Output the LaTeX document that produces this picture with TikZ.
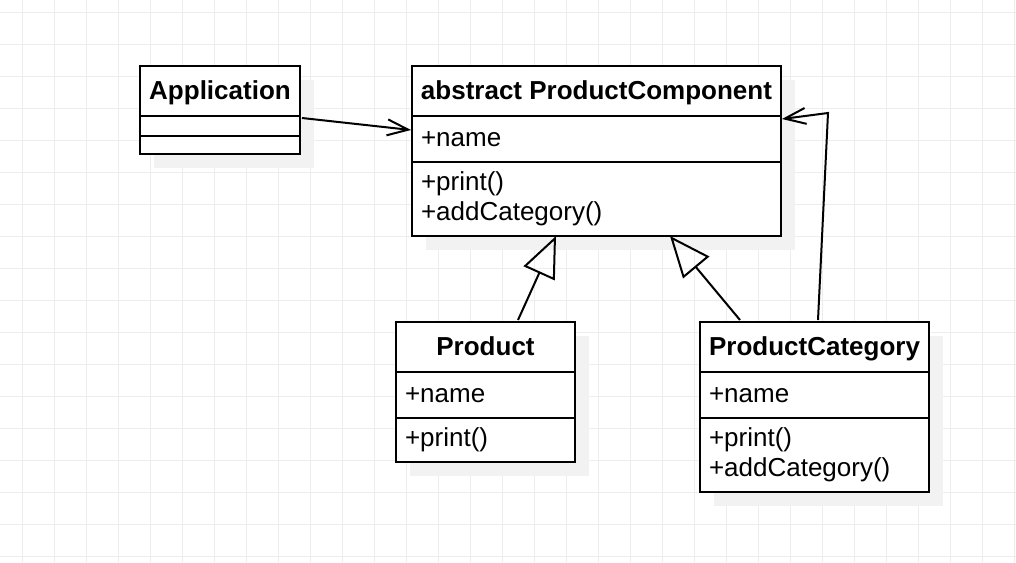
\documentclass[tikz,border=0pt]{standalone}
\usepackage{fontspec}
\setmainfont{Liberation Sans}
\usepackage{tikz}
\usetikzlibrary{arrows, arrows.meta, positioning, calc, shadows}
\definecolor{gridgray}{RGB}{237, 237, 237}
\definecolor{shadowgray}{RGB}{242, 242, 242}

\begin{document}
\begin{tikzpicture}[
    x=0.5pt, y=-0.5pt,
    gridline/.style={draw=gridgray, line width=0.5pt},
    boxshadow/.style={drop shadow={shadow xshift=7pt, shadow yshift=-7pt, fill=shadowgray, opacity=1}},
    classhead/.style={rectangle, draw, line width=1pt, fill=white, outer sep=0pt, inner sep=0pt, minimum width=#1, minimum height=25pt, text height=11pt, text depth=3pt, align=center, font=\fontsize{13}{15}\selectfont\bfseries, boxshadow},
    classpart/.style={rectangle, draw, line width=1pt, fill=white, outer sep=0pt, inner xsep=4.5pt, inner ysep=0pt, text width=#1, align=left, font=\fontsize{13}{15}\selectfont, boxshadow},
    assoc/.style={-{Straight Barb[length=10.5pt, width=8pt]}, line width=1pt},
    inherit/.style={-{Triangle[open, length=20.5pt, width=17pt]}, line width=1pt}
]
    \useasboundingbox (0, 0) rectangle (1016, 562);

    % Background grid
    \foreach \gx in {22.5, 54.5, ..., 1014.5}
        \draw[gridline] (\gx, 0) -- (\gx, 562);
    \foreach \gy in {12.5, 44.5, ..., 556.5}
        \draw[gridline] (0, \gy) -- (1016, \gy);

    % Application
    \node[classhead=80pt, anchor=north] (appHead) at (220, 66) {Application};
    \node[classpart=71pt, minimum height=10pt, below=0pt of appHead] (appAttr) {};
    \node[classpart=71pt, minimum height=9pt, below=0pt of appAttr] (appOps) {};

    % ProductComponent
    \node[classhead=184.5pt, anchor=north] (pcHead) at (596.5, 66) {abstract ProductComponent};
    \node[classpart=175.5pt, minimum height=23pt, below=0pt of pcHead] (pcAttr) {+name};
    \node[classpart=175.5pt, minimum height=37pt, below=0pt of pcAttr] (pcOps) {+print()\\+addCategory()};

    % Product
    \node[classhead=89.5pt, anchor=north] (prodHead) at (485.5, 322) {Product};
    \node[classpart=80.5pt, minimum height=23pt, below=0pt of prodHead] (prodAttr) {+name};
    \node[classpart=80.5pt, minimum height=22pt, below=0pt of prodAttr] (prodOps) {+print()};

    % ProductCategory
    \node[classhead=114.5pt, anchor=north] (pcatHead) at (814.5, 322) {ProductCategory};
    \node[classpart=105.5pt, minimum height=23pt, below=0pt of pcatHead] (pcatAttr) {+name};
    \node[classpart=105.5pt, minimum height=37pt, below=0pt of pcatAttr] (pcatOps) {+print()\\+addCategory()};

    % Connectors
    \draw[assoc] ($(appAttr.north east)+(2, 2)$) -- ($(pcAttr.north west)+(-1, 14)$);
    \draw[inherit] ($(prodHead.north)+(32.5, -2)$) -- ($(pcOps.south)+(-40.5, 0)$);
    \draw[inherit] ($(pcatHead.north)+(-74.5, -2)$) -- ($(pcOps.south)+(73.5, 0)$);
    \coordinate (loopCorner) at ($(pcAttr.north east)+(47, -3)$);
    \draw[assoc] ($(pcatHead.north)+(3.5, -2)$) -- (loopCorner) -- ($(pcAttr.north east)+(1, 3)$);
\end{tikzpicture}
\end{document}
